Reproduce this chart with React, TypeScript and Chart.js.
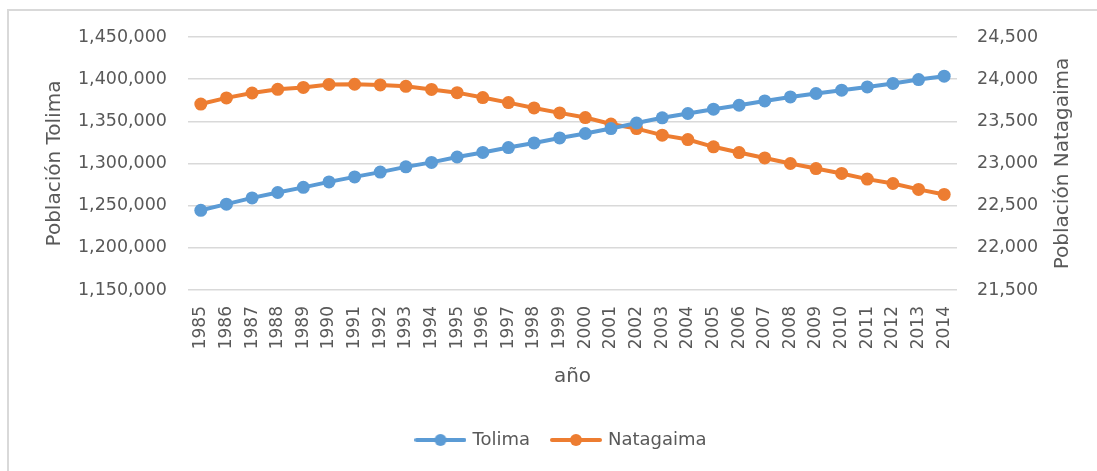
import React, { useEffect, useRef } from "react";
import { Chart, registerables } from "chart.js";

Chart.register(...registerables);

const years = [
  "1985", "1986", "1987", "1988", "1989", "1990", "1991", "1992", "1993", "1994",
  "1995", "1996", "1997", "1998", "1999", "2000", "2001", "2002", "2003", "2004",
  "2005", "2006", "2007", "2008", "2009", "2010", "2011", "2012", "2013", "2014",
];

const tolima = [
  1244500, 1251800, 1259200, 1265600, 1271700, 1278200, 1284100, 1289800, 1296000, 1301300,
  1307700, 1313100, 1318900, 1324400, 1330300, 1335600, 1341400, 1348000, 1354200, 1359300,
  1364400, 1369100, 1374200, 1378900, 1383000, 1386900, 1390800, 1394900, 1399500, 1403500,
];

const natagaima = [
  23705, 23778, 23836, 23880, 23902, 23938, 23940, 23932, 23915, 23878,
  23840, 23782, 23722, 23659, 23600, 23545, 23468, 23414, 23336, 23284,
  23198, 23130, 23066, 23000, 22940, 22882, 22815, 22763, 22693, 22633,
];

const seriesNames = ["Tolima", "Natagaima"];
const seriesColors = ["#5b9bd5", "#ed7d31"];
const leftTitle = "Población Tolima";
const rightTitle = "Población Natagaima";
const xTitle = "año";

const FONT = "'DejaVu Sans', sans-serif";
const TEXT = "#595959";
const GRID = "#d9d9d9";

function legendMarker(color: string): HTMLCanvasElement {
  const c = document.createElement("canvas");
  c.width = 52;
  c.height = 14;
  const g = c.getContext("2d")!;
  g.strokeStyle = color;
  g.lineWidth = 4;
  g.lineCap = "round";
  g.beginPath();
  g.moveTo(2, 7);
  g.lineTo(50, 7);
  g.stroke();
  g.fillStyle = color;
  g.beginPath();
  g.arc(26, 7, 6, 0, Math.PI * 2);
  g.fill();
  return c;
}

const framePlugin = {
  id: "frame",
  beforeDraw(chart: any) {
    const { ctx, width, height } = chart;
    ctx.save();
    ctx.fillStyle = "#ffffff";
    ctx.fillRect(0, 0, width, height);
    ctx.strokeStyle = "#d9d9d9";
    ctx.lineWidth = 2;
    ctx.beginPath();
    ctx.moveTo(8, height + 2);
    ctx.lineTo(8, 10);
    ctx.lineTo(width + 2, 10);
    ctx.stroke();
    ctx.restore();
  },
};

const rightTitlePlugin = {
  id: "rightTitle",
  afterDraw(chart: any) {
    const { ctx, chartArea } = chart;
    ctx.save();
    ctx.translate(1063, (chartArea.top + chartArea.bottom) / 2);
    ctx.rotate(-Math.PI / 2);
    ctx.font = `20px ${FONT}`;
    ctx.fillStyle = TEXT;
    ctx.textAlign = "center";
    ctx.textBaseline = "middle";
    ctx.fillText(rightTitle, 0, 0);
    ctx.restore();
  },
};

export default function App() {
  const ref = useRef<HTMLCanvasElement>(null);

  useEffect(() => {
    if (!ref.current) return;
    const markers = seriesColors.map(legendMarker);
    const chart = new Chart(ref.current, {
      type: "line",
      data: {
        labels: years,
        datasets: [
          {
            label: seriesNames[0],
            data: tolima,
            yAxisID: "y",
            borderColor: seriesColors[0],
            backgroundColor: seriesColors[0],
            borderWidth: 4,
            pointRadius: 6.5,
            pointBorderWidth: 0,
            pointBackgroundColor: seriesColors[0],
            tension: 0,
          },
          {
            label: seriesNames[1],
            data: natagaima,
            yAxisID: "y1",
            borderColor: seriesColors[1],
            backgroundColor: seriesColors[1],
            borderWidth: 4,
            pointRadius: 6.5,
            pointBorderWidth: 0,
            pointBackgroundColor: seriesColors[1],
            tension: 0,
          },
        ],
      },
      options: {
        responsive: false,
        animation: false,
        layout: { padding: { left: 27, right: 0, top: 37, bottom: 12 } },
        plugins: {
          tooltip: { enabled: false },
          legend: {
            position: "bottom",
            labels: {
              usePointStyle: true,
              pointStyleWidth: 46,
              padding: 23,
              color: TEXT,
              font: { family: FONT, size: 18 },
              generateLabels: (ch: any) => {
                const items = Chart.defaults.plugins.legend.labels.generateLabels(ch);
                return items.map((it: any, i: number) => ({ ...it, pointStyle: markers[i] }));
              },
            },
          },
        },
        scales: {
          x: {
            offset: true,
            grid: { display: false, drawTicks: false },
            border: { display: false },
            ticks: {
              maxRotation: 90,
              minRotation: 90,
              autoSkip: false,
              padding: 16,
              color: TEXT,
              font: { family: FONT, size: 17 },
            },
            title: {
              display: true,
              text: xTitle,
              color: TEXT,
              font: { family: FONT, size: 20 },
              padding: { top: 0, bottom: 19 },
            },
            afterFit: (s: any) => {
              s.height = 118;
            },
          },
          y: {
            position: "left",
            min: 1150000,
            max: 1450000,
            grid: { color: GRID, lineWidth: 1.5, drawTicks: false },
            border: { display: false },
            ticks: {
              stepSize: 50000,
              padding: 21,
              color: TEXT,
              font: { family: FONT, size: 17.5 },
              callback: (v: any) => Number(v).toLocaleString("en-US"),
            },
            title: {
              display: true,
              text: leftTitle,
              color: TEXT,
              font: { family: FONT, size: 20 },
              padding: { top: 16, bottom: 0 },
            },
            afterFit: (s: any) => {
              s.width = 161;
            },
          },
          y1: {
            position: "right",
            min: 21500,
            max: 24500,
            grid: { display: false, drawTicks: false },
            border: { display: false },
            ticks: {
              stepSize: 500,
              padding: 20,
              color: TEXT,
              font: { family: FONT, size: 17.5 },
              callback: (v: any) => Number(v).toLocaleString("en-US"),
            },
            afterFit: (s: any) => {
              s.width = 140;
            },
          },
        },
      },
      plugins: [framePlugin, rightTitlePlugin],
    } as any);
    return () => chart.destroy();
  }, []);

  return (
    <div style={{ position: "fixed", left: 0, top: 0, width: 1097, height: 471, background: "#fff" }}>
      <canvas
        ref={ref}
        width={1097}
        height={471}
        style={{ position: "absolute", left: 0, top: 0, width: 1097, height: 471, display: "block" }}
      />
    </div>
  );
}
